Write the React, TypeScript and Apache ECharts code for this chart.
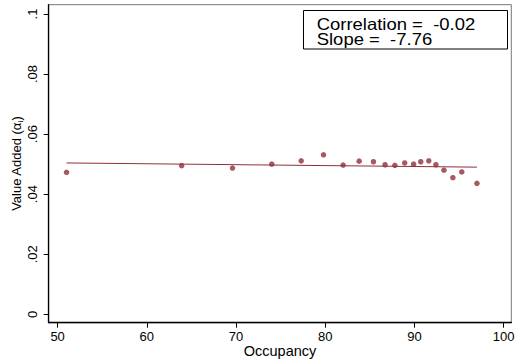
import React, { useEffect, useRef } from "react";
import * as echarts from "echarts";

const occupancy = [51.0, 63.9, 69.6, 74.0, 77.3, 79.8, 82.0, 83.8, 85.4, 86.7, 87.8, 88.9, 89.9, 90.7, 91.6, 92.4, 93.3, 94.3, 95.3, 97.0];
const valueAdded = [0.0473, 0.0495, 0.0487, 0.05, 0.0511, 0.0531, 0.0497, 0.051, 0.0508, 0.0498, 0.0496, 0.0504, 0.05, 0.0508, 0.0511, 0.0498, 0.048, 0.0455, 0.0474, 0.0436];
const fitX = [51, 97];
const fitY = [0.0504, 0.049];
const xTicks = [50, 60, 70, 80, 90, 100];
const yTicks = [0, 0.02, 0.04, 0.06, 0.08, 0.1];
const statLines = ["Correlation =  -0.02", "Slope =  -7.76"];

const FONT = '"Liberation Sans", Arial, Helvetica, sans-serif';
const RED = "#8E2F39";

export default function App() {
  const ref = useRef<HTMLDivElement>(null);
  useEffect(() => {
    if (!ref.current) return;
    const chart = echarts.init(ref.current, undefined, { renderer: "svg" });
    const fmtY = (v: number) => (v === 0 ? "0" : String(v).replace(/^0/, ""));
    chart.setOption({
      animation: false,
      backgroundColor: "#ffffff",
      textStyle: { fontFamily: FONT },
      grid: {
        left: 48.7,
        top: 4.7,
        right: 3.7,
        bottom: 41.3,
        show: true,
        borderColor: "#777777",
        borderWidth: 1,
        backgroundColor: "transparent",
        outerBoundsMode: "none",
      },
      xAxis: {
        type: "value",
        min: 49,
        max: 100.85,
        name: "Occupancy",
        nameLocation: "middle",
        nameGap: 21,
        nameMoveOverlap: false,
        nameTextStyle: { fontSize: 14.5, color: "#000", fontFamily: FONT },
        axisLine: { show: true, onZero: false, lineStyle: { color: "#000", width: 1.3 } },
        axisTick: { show: true, length: 5, customValues: xTicks, lineStyle: { color: "#000", width: 1 } },
        axisLabel: { customValues: xTicks, fontSize: 13, color: "#000", margin: 7, fontFamily: FONT },
        splitLine: { show: false },
      },
      yAxis: {
        type: "value",
        min: -0.0028,
        max: 0.1031,
        name: "{a|Value Added (α}{s|i}{a|)}",
        nameLocation: "middle",
        nameRotate: 90,
        nameGap: 24,
        nameMoveOverlap: false,
        nameTextStyle: {
          fontSize: 13,
          color: "#000",
          fontFamily: FONT,
          rich: {
            a: { fontSize: 13, lineHeight: 16, color: "#000", fontFamily: FONT },
            s: { fontSize: 8, lineHeight: 16, color: "#000", fontFamily: FONT, verticalAlign: "bottom" },
          },
        },
        axisLine: { show: true, onZero: false, lineStyle: { color: "#000", width: 1.3 } },
        axisTick: { show: true, length: 5, customValues: yTicks, lineStyle: { color: "#000", width: 1 } },
        axisLabel: {
          customValues: yTicks,
          rotate: 90,
          fontSize: 13,
          color: "#000",
          margin: 10,
          fontFamily: FONT,
          formatter: fmtY,
        },
        splitLine: { show: false },
      },
      series: [
        {
          type: "line",
          data: fitX.map((x, i) => [x, fitY[i]]),
          showSymbol: false,
          symbol: "none",
          lineStyle: { color: RED, width: 1 },
          silent: true,
          z: 2,
        },
        {
          type: "scatter",
          data: occupancy.map((x, i) => [x, valueAdded[i]]),
          symbol: "circle",
          symbolSize: 5.5,
          itemStyle: { color: RED },
          z: 3,
        },
      ],
      graphic: [
        {
          type: "rect",
          shape: { x: 303.5, y: 10.5, width: 204, height: 38.5 },
          style: { fill: "#fff", stroke: "#000", lineWidth: 1 },
          z: 10,
        },
        {
          type: "text",
          x: 316.7,
          y: 24,
          scaleX: 1.12,
          style: { text: statLines[0], font: `16.5px ${FONT}`, fill: "#000", verticalAlign: "middle" },
          z: 11,
        },
        {
          type: "text",
          x: 316.7,
          y: 39.5,
          scaleX: 1.12,
          style: { text: statLines[1], font: `16.5px ${FONT}`, fill: "#000", verticalAlign: "middle" },
          z: 11,
        },
      ],
    });
    return () => chart.dispose();
  }, []);
  return <div ref={ref} style={{ position: "fixed", left: 0, top: 0, width: 515, height: 364 }} />;
}
